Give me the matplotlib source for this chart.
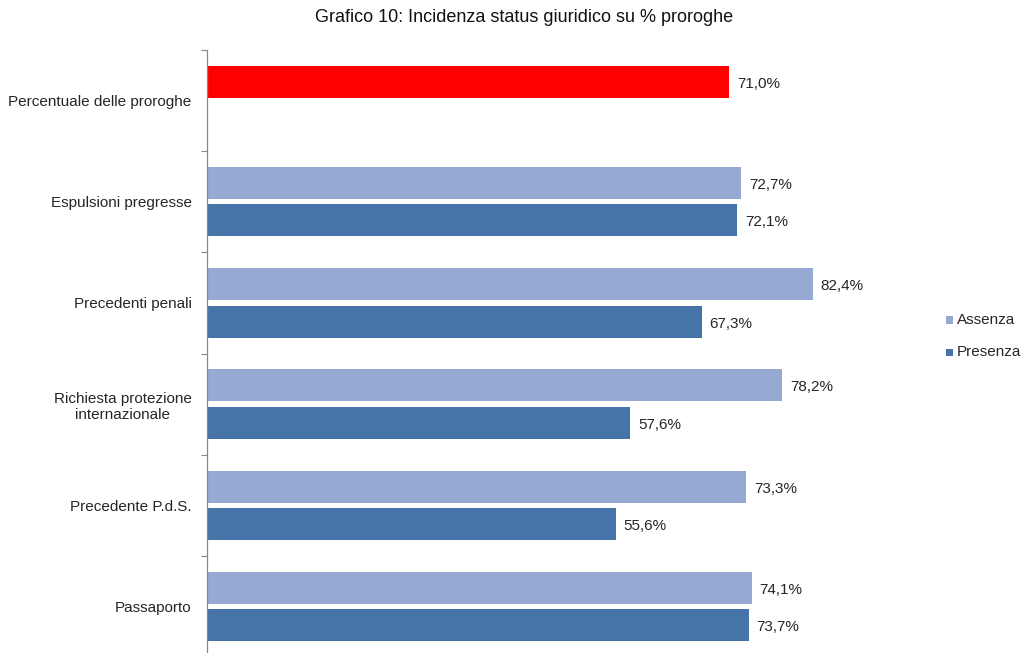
import matplotlib
matplotlib.use("Agg")
import matplotlib.pyplot as plt
from matplotlib.patches import Rectangle
import matplotlib.transforms as mtransforms
import numpy as np

plt.rcParams['font.family'] = ['Liberation Sans', 'DejaVu Sans']

title = "Grafico 10: Incidenza status giuridico su % proroghe"
categories = ["Percentuale delle proroghe", "Espulsioni pregresse", "Precedenti penali",
              "Richiesta protezione\ninternazionale", "Precedente P.d.S.", "Passaporto"]
total_value = 71.0
assenza = [None, 72.7, 82.4, 78.2, 73.3, 74.1]
presenza = [None, 72.1, 67.3, 57.6, 55.6, 73.7]
series_names = ["Assenza", "Presenza"]

c_red = "#FF0000"
c_ass = "#95A9D3"
c_pre = "#4673A8"
txt = "#262626"

W, H = 1021, 653
fig = plt.figure(figsize=(W / 100, H / 100), dpi=100)
left, right, top, bottom = 207, 942, 50, 657
ax = fig.add_axes([left / W, 1 - bottom / H, (right - left) / W, (bottom - top) / H])

y = np.arange(len(categories))
h = 0.316
off = 0.184

def fmt(v):
    return f"{v:.1f}".replace('.', ',') + '%'

lab_tr = ax.transData + mtransforms.ScaledTranslation(8 / 100, -2 / 100, fig.dpi_scale_trans)

def vlabel(v, yy):
    ax.text(v, yy, fmt(v), va='center', ha='left', fontsize=11, color=txt, transform=lab_tr)

ax.barh(y[0] - off, total_value, height=h, color=c_red)
vlabel(total_value, y[0] - off)

for i in range(1, len(categories)):
    a, p = assenza[i], presenza[i]
    ax.barh(y[i] - off, a, height=h, color=c_ass)
    ax.barh(y[i] + off, p, height=h, color=c_pre)
    vlabel(a, y[i] - off)
    vlabel(p, y[i] + off)

ax.set_xlim(0, 100)
ax.set_ylim(len(categories) - 0.5, -0.5)
ax.set_yticks(y)
ax.set_yticklabels(categories, fontsize=11, color=txt)
for lab in ax.get_yticklabels():
    lab.set_multialignment('center')
ax.tick_params(axis='y', which='major', length=0, pad=11)
ax.set_yticks(np.arange(-0.5, len(categories), 1.0), minor=True)
ax.tick_params(axis='y', which='minor', length=4, width=0.8, color='#888888', direction='out')
ax.set_xticks([])
for s in ['top', 'right', 'bottom']:
    ax.spines[s].set_visible(False)
ax.spines['left'].set_color('#888888')
ax.spines['left'].set_linewidth(0.9)

fig.text(524 / W, 1 - 18 / H, title, ha='center', va='center', fontsize=13, color='#111111')

# legend
for name, col, yc in zip(series_names, [c_ass, c_pre], [320, 352]):
    fig.patches.append(Rectangle((946 / W, 1 - (yc + 3.5) / H), 7 / W, 7 / H,
                                 transform=fig.transFigure, facecolor=col, edgecolor='none'))
    fig.text(957 / W, 1 - yc / H, name, ha='left', va='center', fontsize=11, color=txt)

fig.savefig("out.png", dpi=100)
